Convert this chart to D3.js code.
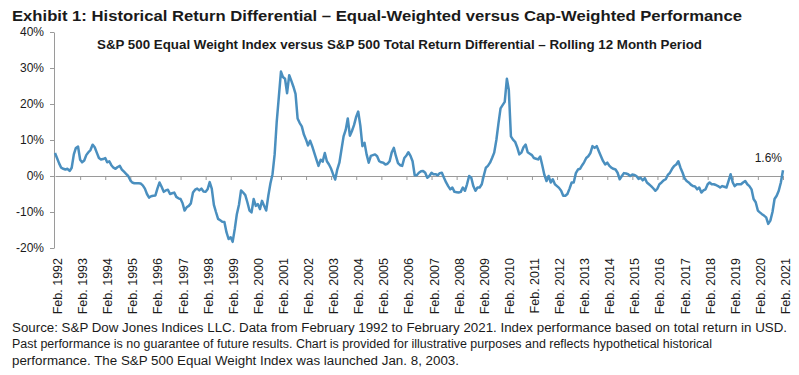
<!DOCTYPE html>
<html>
<head>
<meta charset="utf-8">
<title>Equal-Weighted versus Cap-Weighted Performance</title>
<script src="https://cdn.jsdelivr.net/npm/d3@7"></script>
<style>
  body { margin: 0; background: #fff; }
  svg { display: block; font-family: "Liberation Sans", Arial, sans-serif; }
</style>
</head>
<body>
<svg id="chart" width="799" height="375"></svg>
<script>
// rolling 12 month return differential (%), monthly from Feb. 1992 to Feb. 2021
const startYear = 1992;
const diffs = [
  6.4, 5.0, 3.5, 2.3, 2.0, 1.8, 2.0, 1.4, 2.3, 6.0, 7.8, 8.2,
  4.5, 3.8, 4.3, 5.8, 6.6, 7.2, 8.7, 8.0, 6.5, 5.0, 4.6, 4.7,
  5.0, 3.8, 4.1, 3.0, 2.3, 2.0, 2.5, 2.8, 1.8, 1.2, 0.6, 0.0,
  -1.2, -1.8, -2.0, -2.0, -2.0, -2.1, -2.6, -3.5, -5.0, -6.0, -5.6, -5.5,
  -5.4, -3.5, -1.8, -3.0, -4.4, -4.0, -3.8, -5.0, -4.8, -4.6, -5.8, -6.2,
  -6.4, -7.5, -9.6, -8.7, -8.3, -7.6, -4.6, -3.8, -3.5, -4.0, -3.5, -4.3,
  -4.4, -3.7, -1.7, -3.5, -8.0, -10.0, -11.9, -12.3, -12.7, -12.8, -15.6, -17.5,
  -17.0, -18.3, -14.7, -10.6, -8.0, -4.0, -4.6, -5.3, -7.3, -9.6, -10.1, -6.4,
  -8.3, -7.8, -9.2, -6.9, -8.3, -9.6, -5.5, -2.0, 0.5, 6.0, 15.0, 22.0,
  29.0, 27.5, 27.0, 23.0, 28.0, 26.5, 24.8, 22.8, 16.0, 14.7, 13.8, 11.5,
  10.1, 8.5, 9.8, 8.3, 6.4, 4.6, 2.8, 4.5, 4.0, 6.4, 4.1, 3.2,
  2.0, 0.5, -1.0, 1.8, 3.7, 7.3, 11.0, 12.8, 16.0, 11.2, 12.5, 14.2,
  16.5, 17.9, 14.0, 8.3, 9.2, 6.0, 3.7, 5.6, 5.8, 6.0, 5.5, 4.1,
  3.8, 3.7, 3.2, 3.4, 4.1, 6.5, 7.8, 5.5, 3.6, 3.0, 2.8, 5.0,
  5.7, 6.6, 5.6, 4.1, 0.2, 0.2, 0.9, 1.3, 1.4, 0.9, -0.5, 0.0,
  0.9, 0.5, 0.5, 0.2, 0.8, 0.9, -0.5, -1.8, -2.8, -3.7, -3.2, -4.4,
  -4.5, -4.6, -4.4, -3.2, -4.1, -2.3, 0.0, -0.5, -2.8, -4.1, -3.2, -3.2,
  -2.3, 0.0, 2.3, 2.8, 3.7, 5.0, 6.5, 10.0, 14.5, 18.8, 19.7, 20.6,
  27.0, 24.0, 11.0, 10.1, 9.5, 8.0, 6.0, 6.5, 8.0, 8.7, 6.6, 6.2,
  5.8, 5.0, 4.8, 4.6, 5.4, 3.0, 0.3, -1.4, 0.0, -1.8, -0.9, -2.3,
  -2.8, -3.3, -4.1, -5.5, -5.5, -5.0, -3.5, -1.8, -1.8, 0.8, 1.8, 2.0,
  3.0, 3.8, 5.0, 5.5, 6.4, 8.3, 7.8, 8.3, 6.9, 5.5, 4.2, 3.2,
  3.7, 2.9, 2.3, 2.0, 1.8, 0.9, -0.9, 0.0, 0.8, 0.7, 0.5, 0.0,
  0.4, 0.3, 0.0, -0.8, -0.5, -1.2, -0.6, -1.8, -2.3, -2.8, -3.4, -4.1,
  -3.5, -2.3, -1.8, -1.2, -0.9, 0.3, 0.9, 2.0, 2.8, 3.2, 4.1, 2.3,
  0.9, -0.6, -1.4, -1.8, -2.4, -2.8, -2.9, -3.7, -3.2, -4.6, -4.0, -3.7,
  -2.3, -1.8, -2.3, -2.3, -2.5, -2.8, -3.2, -2.8, -3.0, -3.2, -1.4, 0.5,
  -1.8, -2.8, -2.3, -2.3, -2.3, -1.8, -1.4, -2.3, -2.8, -3.7, -6.4, -7.3,
  -9.6, -10.1, -10.6, -11.0, -11.5, -13.3, -12.4, -10.0, -6.4, -5.5, -4.1, -1.8,
  1.6
];
const yTicks = [-20, -10, 0, 10, 20, 30, 40];
const tickLabels = [
  'Feb. 1992', 'Feb. 1993', 'Feb. 1994', 'Feb. 1995', 'Feb. 1996', 'Feb. 1997',
  'Feb. 1998', 'Feb. 1999', 'Feb. 2000', 'Feb. 2001', 'Feb. 2002', 'Feb. 2003',
  'Feb. 2004', 'Feb. 2005', 'Feb. 2006', 'Feb. 2007', 'Feb. 2008', 'Feb. 2009',
  'Feb. 2010', 'Feb. 2011', 'Feb. 2012', 'Feb. 2013', 'Feb. 2014', 'Feb. 2015',
  'Feb. 2016', 'Feb. 2017', 'Feb. 2018', 'Feb. 2019', 'Feb. 2020', 'Feb. 2021'
];
const endLabel = '1.6%';
const title = 'Exhibit 1: Historical Return Differential \u2013 Equal-Weighted versus Cap-Weighted Performance';
const subtitle = 'S&P 500 Equal Weight Index versus S&P 500 Total Return Differential \u2013 Rolling 12 Month Period';
const notes = [
  'Source: S&P Dow Jones Indices LLC. Data from February 1992 to February 2021. Index performance based on total return in USD.',
  'Past performance is no guarantee of future results. Chart is provided for illustrative purposes and reflects hypothetical historical',
  'performance. The S&P 500 Equal Weight Index was launched Jan. 8, 2003.'
];

const svg = d3.select('#chart');
const parseTick = d3.timeParse('%b. %Y');
const dates = diffs.map((d, i) => new Date(startYear, 1 + i, 1));
const tickDates = tickLabels.map(parseTick);

const x = d3.scaleTime()
  .domain([dates[0], dates[dates.length - 1]])
  .range([55, 783]);
const y = d3.scaleLinear().domain([-20, 40]).range([248, 32]);

// titles
svg.append('text')
  .attr('x', 12).attr('y', 21)
  .attr('textLength', 730).attr('lengthAdjust', 'spacingAndGlyphs')
  .style('font-size', '15.5px').style('font-weight', 'bold').style('fill', '#1a1a1a')
  .text(title);
svg.append('text')
  .attr('x', 97).attr('y', 49)
  .attr('textLength', 605).attr('lengthAdjust', 'spacingAndGlyphs')
  .style('font-size', '12px').style('font-weight', 'bold').style('fill', '#1a1a1a')
  .text(subtitle);

// y axis
const yAxis = svg.append('g')
  .attr('transform', 'translate(54,0)')
  .call(d3.axisLeft(y).tickValues(yTicks).tickSize(4).tickSizeOuter(0).tickPadding(6)
    .tickFormat(d => d + '%'));
yAxis.selectAll('path, line').attr('stroke', '#9a9a9a');
yAxis.selectAll('text').style('font-size', '12px').style('fill', '#1a1a1a')
  .style('font-family', '"Liberation Sans", Arial, sans-serif');

// zero line with yearly ticks
const xAxis = svg.append('g')
  .attr('transform', `translate(0,${y(0)})`)
  .call(d3.axisBottom(x).tickValues(tickDates.slice(1)).tickSize(4).tickSizeOuter(0)
    .tickFormat(''));
xAxis.selectAll('path, line').attr('stroke', '#9a9a9a');

// date labels along the bottom
svg.append('g').selectAll('text')
  .data(tickLabels)
  .join('text')
  .attr('transform', (d, i) => `translate(${x(tickDates[i]) + 3},258) rotate(-90)`)
  .attr('text-anchor', 'end')
  .attr('dominant-baseline', 'central')
  .style('font-size', '12.5px').style('fill', '#1a1a1a')
  .text(d => d);

// the series
const line = d3.line()
  .x((d, i) => x(dates[i]))
  .y(d => y(d));
svg.append('path')
  .datum(diffs)
  .attr('d', line)
  .attr('fill', 'none')
  .attr('stroke', '#4a8fbf')
  .attr('stroke-width', 2.5)
  .attr('stroke-linejoin', 'round');

// last value label
const last = diffs.length - 1;
svg.append('text')
  .attr('x', x(dates[last]) - 1)
  .attr('y', y(diffs[last]) - 8)
  .attr('text-anchor', 'end')
  .style('font-size', '12px').style('fill', '#1a1a1a')
  .text(endLabel);

// footnotes
const noteEnds = [787, 712, 459];
svg.append('g').selectAll('text')
  .data(notes)
  .join('text')
  .attr('x', 12)
  .attr('y', (d, i) => 332 + i * 16.3)
  .attr('textLength', (d, i) => noteEnds[i] - 12)
  .attr('lengthAdjust', 'spacingAndGlyphs')
  .style('font-size', '12.5px').style('fill', '#1a1a1a')
  .text(d => d);
</script>
</body>
</html>
